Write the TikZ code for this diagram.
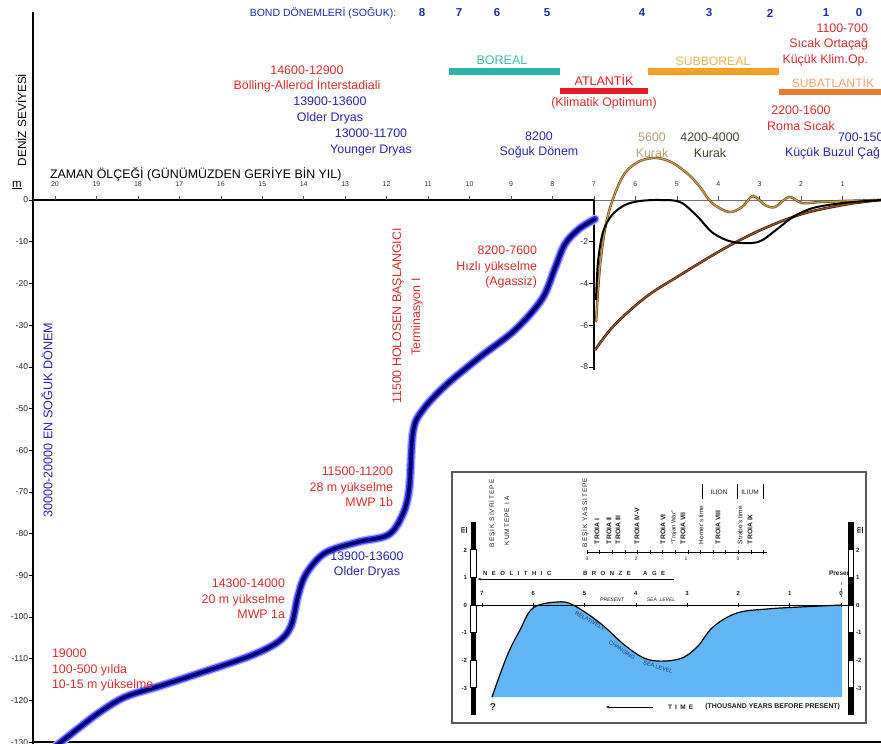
\documentclass[tikz,border=0pt]{standalone}
\usepackage{fontspec}
\setmainfont{Liberation Sans}
\usetikzlibrary{arrows.meta}
\definecolor{redc}{RGB}{214,48,48}
\definecolor{bluec}{RGB}{40,40,165}
\definecolor{bondc}{RGB}{30,45,160}
\definecolor{tealc}{RGB}{42,180,168}
\definecolor{atlc}{RGB}{225,30,40}
\definecolor{subbc}{RGB}{245,160,40}
\definecolor{subac}{RGB}{232,125,50}
\definecolor{subblbl}{RGB}{240,180,80}
\definecolor{subalbl}{RGB}{230,170,120}
\definecolor{borlbl}{RGB}{70,185,175}
\definecolor{kurakA}{RGB}{185,160,120}
\definecolor{kurakB}{RGB}{75,65,50}
\definecolor{tanc}{RGB}{200,155,70}
\definecolor{brownc}{RGB}{145,80,35}
\definecolor{seac}{RGB}{98,182,244}
\definecolor{glowA}{RGB}{180,180,255}
\definecolor{glowB}{RGB}{60,60,255}
\definecolor{glowC}{RGB}{0,0,110}
\definecolor{inseta}{RGB}{30,30,30}
\definecolor{seatext}{RGB}{30,50,110}
\begin{document}
\begin{tikzpicture}[x=1pt,y=-1pt,
  lbl/.style={inner sep=0pt,outer sep=0pt,align=center},
  rtx/.style={lbl,text=redc,font=\fontsize{12.4}{15.5}\selectfont},
  btx/.style={lbl,text=bluec,font=\fontsize{12.4}{15.5}\selectfont},
  bondnum/.style={lbl,text=bondc,font=\fontsize{11.5}{12}\selectfont\bfseries},
  xtk/.style={lbl,text=black!80,font=\fontsize{7}{8}\selectfont},
  ytk/.style={lbl,anchor=east,text=black!85,font=\fontsize{8.5}{9}\selectfont},
  perbar/.style={line width=6.5pt},
  itk/.style={lbl,text=inseta,font=\fontsize{6}{7}\selectfont\bfseries},
  ivert/.style={lbl,rotate=90,anchor=west,text=inseta,font=\fontsize{6.5}{7}\selectfont\addfontfeature{LetterSpace=15}},
  troia/.style={lbl,rotate=90,anchor=west,text=inseta,font=\fontsize{6.8}{7}\selectfont\bfseries},
  seatx/.style={lbl,text=seatext,font=\fontsize{5.6}{6}\selectfont},
]
\useasboundingbox (0,0) rectangle (881,744);
\fill[white] (0,0) rectangle (881,744);

% ---------- main axes ----------
\coordinate (ytop) at (33,12);
\coordinate (ybot) at (33,744);
\coordinate (o) at (33,200);
\coordinate (x7) at (594,200);
\coordinate (xend) at (881,200);
\coordinate (r8) at (594,370);
\coordinate (bl) at (33,742);
\coordinate (br) at (881,742);
\draw[line width=0.8pt,black!55] (x7) -- (xend);
\draw[line width=2.2pt] (o) -- (x7);
\draw[line width=2.8pt] (ytop) -- (ybot);
\draw[line width=2.4pt] (x7) -- (r8);
\draw[line width=2.4pt] (bl) -- (br);

% x ticks
\foreach \t in {0,...,20}{
  \pgfmathsetmacro\xx{884-41.45*\t}
  \node[xtk] (xl\t) at (\xx,184) {\t};
  \draw[black!70,line width=0.5pt] (\xx,196) -- (\xx,200);
}
% y ticks
\foreach \v [count=\i from 0] in {0,-10,-20,-30,-40,-50,-60,-70,-80,-90,-100,-110,-120,-130}{
  \pgfmathsetmacro\yy{200+41.7*\i}
  \node[ytk] (yl\i) at (28,\yy) {\v};
  \draw[line width=0.6pt] (28.5,\yy) -- (33,\yy);
}
% right panel ticks
\foreach \v [count=\i from 1] in {-2,-4,-6,-8}{
  \pgfmathsetmacro\yy{200+41.7*\i}
  \node[ytk] (rl\i) at (588,\yy) {\v};
  \draw[line width=0.6pt] (589,\yy) -- (594,\yy);
}

% axis titles
\node[lbl,anchor=west,font=\fontsize{12.4}{14}\selectfont] (zaman) at (50,174) {ZAMAN ÖLÇEĞİ (GÜNÜMÜZDEN GERİYE BİN YIL)};
\node[lbl,rotate=90,font=\fontsize{11.8}{13}\selectfont] (deniz) at (21,120) {DENİZ SEVİYESİ};
\node[lbl,font=\fontsize{11.5}{13}\selectfont] (munit) at (17,185) {\underline{m}};

% ---------- Bond periods ----------
\node[lbl,text=bondc,font=\fontsize{10.5}{12}\selectfont] (bondlbl) at (323,13) {BOND DÖNEMLERİ (SOĞUK):};
\node[bondnum] (b8) at (422,13) {8};
\node[bondnum] (b7) at (459,13) {7};
\node[bondnum] (b6) at (497,13) {6};
\node[bondnum] (b5) at (547,13) {5};
\node[bondnum] (b4) at (642,13) {4};
\node[bondnum] (b3) at (709,13) {3};
\node[bondnum] (b2) at (770,13) {2};
\node[bondnum] (b1) at (826,13) {1};
\node[bondnum] (b0) at (859,13) {0};

% ---------- climate period bars ----------
\coordinate (borA) at (449,71.5); \coordinate (borB) at (560,71.5);
\coordinate (atlA) at (560,91); \coordinate (atlB) at (648,91);
\coordinate (subA) at (648,71.5); \coordinate (subB) at (779,71.5);
\coordinate (sbaA) at (779,92); \coordinate (sbaB) at (881,92);
\draw[perbar,tealc] (borA) -- (borB);
\draw[perbar,atlc] (atlA) -- (atlB);
\draw[perbar,subbc] (subA) -- (subB);
\draw[perbar,subac] (sbaA) -- (sbaB);
\node[lbl,text=borlbl,font=\fontsize{12.5}{13}\selectfont] (boreal) at (502,60) {BOREAL};
\node[lbl,text=atlc,font=\fontsize{12.5}{13}\selectfont] (atlantik) at (604,80) {ATLANTİK};
\node[rtx] (klimopt) at (604,103) {(Klimatik Optimum)};
\node[lbl,text=subblbl,font=\fontsize{12.2}{13}\selectfont] (subboreal) at (713,61) {SUBBOREAL};
\node[lbl,text=subalbl,font=\fontsize{12.2}{13}\selectfont] (subatl) at (833,82) {SUBATLANTİK};

% ---------- upper texts ----------
\node[rtx,align=right,anchor=east] (ortacag) at (868,44.5) {1100-700\\Sıcak Ortaçağ\\Küçük Klim.Op.};
\node[rtx] (roma) at (801,118) {2200-1600\\Roma Sıcak};
\node[btx,anchor=west] (lia1) at (838,137) {700-150};
\node[btx,anchor=west] (lia2) at (785,153) {Küçük Buzul Çağı};
\node[btx] (soguk) at (539,145) {8200\\Soğuk Dönem};
\node[lbl,text=kurakA,font=\fontsize{12.4}{15.5}\selectfont] (kurak1) at (652,145) {5600\\Kurak};
\node[lbl,text=kurakB,font=\fontsize{12.4}{15.5}\selectfont] (kurak2) at (710,145) {4200-4000\\Kurak};
\node[rtx,font=\fontsize{12.4}{14.5}\selectfont] (bolling) at (307,79) {14600-12900\\Bölling-Alleröd İnterstadiali};
\node[btx,font=\fontsize{12.4}{16}\selectfont] (older1) at (330,110) {13900-13600\\Older Dryas};
\node[btx] (younger) at (371,142.5) {13000-11700\\Younger Dryas};

% ---------- main sea level curve ----------
\def\mainpath{plot[smooth,tension=0.55] coordinates {(56,746) (80,727) (100,712) (125,697) (160,686) (200,673) (250,656) (278,642) (291,626) (298,596) (306,574) (325,553) (358,542) (388,535) (402,516) (409,490) (413,432) (422,411) (445,386) (480,357) (515,330) (542,299) (555,268) (565,244) (579,229) (595,219)}}
\draw[glowA,line width=9pt,line cap=round] \mainpath;
\draw[glowB,line width=6.5pt,line cap=round] \mainpath;
\draw[glowC,line width=3.6pt,line cap=round] \mainpath;

% labels along main curve
\node[btx,rotate=90,font=\fontsize{12.6}{13}\selectfont] (ensoguk) at (47,420) {30000-20000 EN SOĞUK DÖNEM};
\node[rtx,rotate=90,font=\fontsize{12.4}{13}\selectfont] (holosen) at (398,316) {11500 HOLOSEN BAŞLANGICI};
\node[rtx,rotate=90,font=\fontsize{12.4}{13}\selectfont] (termin) at (417,317) {Terminasyon I};
\node[rtx,align=right,anchor=east] (agassiz) at (537,267) {8200-7600\\Hızlı yükselme\\(Agassiz)};
\node[rtx,align=right,anchor=east] (mwp1b) at (393,487) {11500-11200\\28 m yükselme\\MWP 1b};
\node[btx] (older2) at (367,565) {13900-13600\\Older Dryas};
\node[rtx,align=right,anchor=east] (mwp1a) at (285,599) {14300-14000\\20 m yükselme\\MWP 1a};
\node[rtx,align=left,anchor=west] (lgm) at (52,670) {19000\\100-500 yılda\\10-15 m yükselme};

% ---------- right panel curves (last 7000 yr) ----------
\def\brownpath{plot[smooth,tension=0.6] coordinates {(595,350) (610,330) (627,313) (650,294) (677,277) (703,261) (727,247) (752,234) (777,223) (802,214) (827,208) (855,203) (881,200)}}
\draw[black!70!brownc,line width=2.6pt] \brownpath;
\draw[brownc,line width=1.4pt] \brownpath;
\def\tanpath{plot[smooth,tension=0.55] coordinates {(596,322) (600,266) (606,224) (614,196) (625,173) (640,161) (657,158) (673,163) (689,175) (700,187) (712,203) (729,212) (742,207) (753,196) (765,205) (775,207) (789,197) (802,203) (820,202) (843,201) (881,200)}}
\draw[black!60!tanc,line width=2.4pt] \tanpath;
\draw[tanc,line width=1.3pt] \tanpath;
\draw[black,line width=2pt] plot[smooth,tension=0.55] coordinates {(596,300) (598,262) (603,232) (612,215) (625,205) (640,201) (660,200) (680,202) (697,216) (713,233) (733,242) (758,242) (776,230) (793,217) (813,208) (843,203) (881,200)};

% ---------- inset ----------
\coordinate (inNW) at (452,472);
\coordinate (inSE) at (866,723);
\draw[fill=white,draw=black!65,line width=1.3pt] (inNW) rectangle (inSE);

% sea area
\fill[seac] plot[smooth,tension=0.6] coordinates {(492,697) (507,656) (520,630) (533,608) (557,602) (573,605) (600,623) (627,647) (650,660) (679,659) (697,647) (713,627) (737,613) (767,609) (800,607) (842,605)} -- (842,697) -- cycle;
\draw[black,line width=1.2pt] plot[smooth,tension=0.6] coordinates {(492,697) (507,656) (520,630) (533,608) (557,602) (573,605) (600,623) (627,647) (650,660) (679,659) (697,647) (713,627) (737,613) (767,609) (800,607) (842,605)};
\node[seatx,rotate=-30] (relat) at (590,621) {RELATIVELY};
\node[seatx,rotate=-34] (chang) at (622,650) {CHANGING};
\node[seatx,rotate=-16] (sealv) at (658,667) {SEA LEVEL};

% inset axis
\coordinate (iaxL) at (473,605);
\coordinate (iaxR) at (851,605);
\draw[line width=0.9pt] (iaxL) -- (iaxR);
\foreach \t in {0,...,7}{
  \pgfmathsetmacro\xx{841-51.3*\t}
  \node[itk] (il\t) at (\xx,593) {\t};
  \draw[line width=0.5pt] (\xx,603) -- (\xx,607);
}
\node[lbl,text=inseta,font=\fontsize{5}{6}\selectfont\itshape] (present) at (612,600) {PRESENT};
\node[lbl,text=inseta,font=\fontsize{5}{6}\selectfont\itshape] (sealevel) at (661,600) {SEA\ \ LEVEL};
\draw[black!50,dashed,line width=0.4pt] (841,582) -- (841,600);
\node[itk,font=\fontsize{6.5}{7}\selectfont\bfseries] (presentR) at (841,573) {Present};

% scale bars
\foreach \bx/\nm in {470.5/L,848/R}{
  \foreach \k in {0,...,6}{
    \pgfmathsetmacro\ya{522+27.6*\k}
    \pgfmathsetmacro\yb{522+27.6*(\k+1)}
    \pgfmathtruncatemacro\odd{mod(\k,2)}
    \ifnum\odd=0
      \fill[black] (\bx,\ya) rectangle (\bx+5.5,\yb);
    \else
      \draw[black,line width=0.6pt,fill=white] (\bx,\ya) rectangle (\bx+5.5,\yb);
    \fi
  }
}
\foreach \v [count=\i from 0] in {2,1,0,-1,-2,-3}{
  \pgfmathsetmacro\yy{550+27.6*\i}
  \node[itk,anchor=east] (sl\i) at (467,\yy) {\v};
  \node[itk,anchor=west] (sr\i) at (856,\yy) {\v};
}
\node[itk,rotate=90,font=\fontsize{7}{8}\selectfont\bfseries] (mL) at (464,530) {\underline{m}};
\node[itk,rotate=90,font=\fontsize{7}{8}\selectfont\bfseries] (mR) at (860,530) {\underline{m}};

% neolithic / bronze age arrow
\coordinate (arrL) at (478,579);
\coordinate (arrR) at (674,579);
\draw[line width=0.6pt,-{Stealth[length=3pt,width=2.5pt]}] (arrR) -- (arrL);
\node[lbl,anchor=west,text=inseta,font=\fontsize{6}{7}\selectfont\bfseries\addfontfeature{LetterSpace=75}] (neo) at (483,573) {NEOLITHIC};
\node[lbl,anchor=west,text=inseta,font=\fontsize{6}{7}\selectfont\bfseries\addfontfeature{LetterSpace=75}] (bronze) at (583,573) {BRONZE\ \ AGE};

% top ruler
\coordinate (ruL) at (587,552);
\coordinate (ruR) at (767,552);
\draw[line width=0.6pt] (ruL) -- (ruR);
\foreach \k in {0,...,14}{
  \pgfmathsetmacro\xx{587+12.6*\k}
  \draw[line width=0.4pt] (\xx,550) -- (\xx,554);
}
\foreach \v/\xx in {3/587,2/636,1/686,0/738}{
  \node[lbl,text=inseta,font=\fontsize{5}{6}\selectfont] (ru\v) at (\xx,559) {\v};
}

% site / period labels (vertical)
\node[ivert] (sivri) at (492,547) {BEŞİK SİVRİTEPE};
\node[ivert] (kumtepe) at (507,545) {KUMTEPE I A};
\node[ivert] (yassi) at (585,547) {BEŞİK YASSITEPE};
\node[troia] (t1) at (597,544) {TROIA I};
\node[troia] (t2) at (609,544) {TROIA II};
\node[troia] (t3) at (618,544) {TROIA III};
\node[troia] (t45) at (637,544) {TROIA IV-V};
\node[troia] (t6) at (663,544) {TROIA VI};
\node[ivert,font=\fontsize{6}{7}\selectfont] (twar) at (674,544) {“Trojan War”};
\node[troia] (t7) at (683,544) {TROIA VII};
\node[ivert,font=\fontsize{6.5}{7}\selectfont] (homer) at (701,544) {Homer's time};
\node[troia] (t8) at (718,544) {TROIA VIII};
\node[ivert,font=\fontsize{6.5}{7}\selectfont] (strabo) at (740,544) {Strabo's time};
\node[troia] (t9) at (750,544) {TROIA IX};
\node[lbl,text=inseta,font=\fontsize{6.5}{7}\selectfont] (ilion) at (719,492) {ILION};
\node[lbl,text=inseta,font=\fontsize{6.5}{7}\selectfont] (ilium) at (750,492) {ILIUM};
\draw[line width=0.4pt] (702,484) -- (702,499);
\draw[line width=0.4pt] (737,484) -- (737,499);
\draw[line width=0.4pt] (763,484) -- (763,499);

% bottom of inset
\node[lbl,text=inseta,font=\fontsize{10}{11}\selectfont\bfseries] (qm) at (493,707) {?};
\coordinate (tarR) at (653,707);
\coordinate (tarL) at (606,707);
\draw[line width=0.6pt,-{Stealth[length=3.5pt,width=2.8pt]}] (tarR) -- (tarL);
\node[lbl,anchor=west,text=inseta,font=\fontsize{6.5}{7}\selectfont\bfseries\addfontfeature{LetterSpace=50}] (time) at (668,707) {TIME};
\node[lbl,anchor=east,text=inseta,font=\fontsize{6.9}{7}\selectfont\bfseries] (thousand) at (840,707) {(THOUSAND YEARS BEFORE PRESENT)};
\end{tikzpicture}
\end{document}
